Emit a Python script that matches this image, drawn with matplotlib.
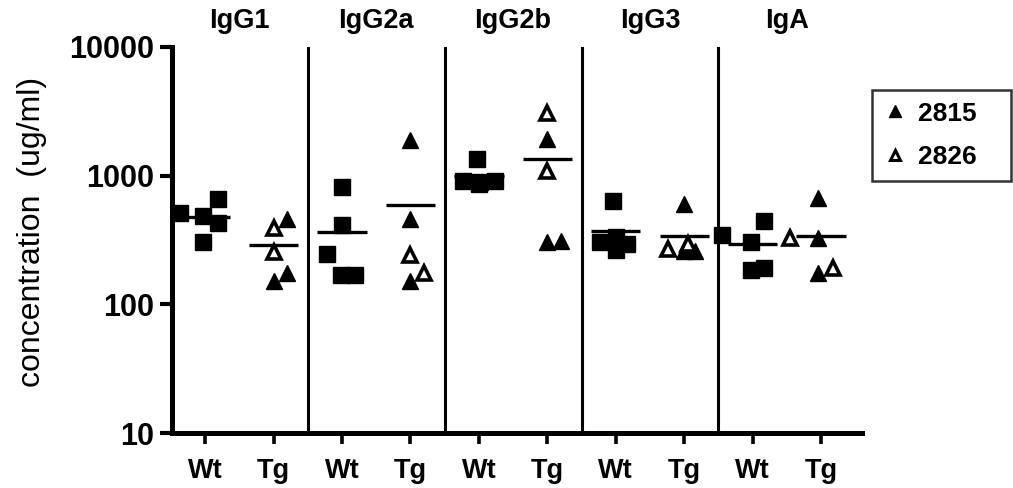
import numpy as np
import matplotlib
matplotlib.use("Agg")
import matplotlib.pyplot as plt
from matplotlib.lines import Line2D
import matplotlib.transforms as mtransforms

plt.rcParams['font.family'] = ['Liberation Sans', 'DejaVu Sans']

# isotypes and genotype labels
groups = ['IgG1', 'IgG2a', 'IgG2b', 'IgG3', 'IgA']
genotypes = ['Wt', 'Tg']

# Wt mice (squares), concentration ug/ml
wt_values = [
    [517, 664, 490, 432, 303],
    [822, 417, 248, 168, 168],
    [1355, 914, 867, 914, 900],
    [640, 307, 335, 297, 266],
    [343, 448, 303, 184, 190],
]
# Tg mice, line 2815 (filled triangles)
tg_2815 = [
    [464, 153, 174],
    [1901, 464, 153],
    [1936, 303, 313],
    [607, 258, 262],
    [675, 325, 174],
]
# Tg mice, line 2826 (open triangles)
tg_2826 = [
    [395, 253],
    [240, 174],
    [3076, 1093],
    [267, 297],
    [330, 190],
]

# horizontal scatter offsets so overlapping points show side by side
wt_jitter = [
    [-0.37, 0.19, -0.03, 0.19, -0.03],
    [0, 0, -0.22, -0.02, 0.19],
    [-0.03, -0.23, 0, 0.23, 0.02],
    [-0.04, -0.23, 0, 0.17, 0],
    [-0.44, 0.16, -0.03, -0.03, 0.16],
]
jitter_2815 = [
    [0.19, 0, 0.19],
    [0, 0, 0],
    [0, 0, 0.2],
    [0, 0, 0.16],
    [-0.04, -0.04, -0.04],
]
jitter_2826 = [
    [0, 0],
    [0, 0.2],
    [0, 0],
    [-0.23, 0.06],
    [-0.45, 0.18],
]

fig = plt.figure(figsize=(10.13, 4.88), dpi=100)
ax = fig.add_axes([0.170, 0.1127, 0.681, 0.791])

sq = dict(marker='s', ms=11.5, color='black', ls='none', zorder=3)
tri_f = dict(marker='^', ms=12, color='black', ls='none', zorder=3)
tri_o = dict(marker='^', ms=10, mfc='white', mec='black', mew=2.6, ls='none', zorder=3)

for i in range(len(groups)):
    xw = 2 * i + 1
    xt = 2 * i + 2
    ax.plot(xw + np.array(wt_jitter[i]), wt_values[i], **sq)
    ax.plot(xt + np.array(jitter_2815[i]), tg_2815[i], **tri_f)
    ax.plot(xt + np.array(jitter_2826[i]), tg_2826[i], **tri_o)
    # group means
    wt_mean = np.mean(wt_values[i])
    tg_mean = np.mean(tg_2815[i] + tg_2826[i])
    ax.hlines(wt_mean, xw - 0.36, xw + 0.36, color='black', lw=2.4, zorder=4)
    ax.hlines(tg_mean, xt - 0.36, xt + 0.36, color='black', lw=2.4, zorder=4)
    if i > 0:
        ax.axvline(2 * i + 0.5, color='black', lw=2.2, zorder=2)

trans = mtransforms.blended_transform_factory(ax.transData, ax.transAxes)
for i, g in enumerate(groups):
    ax.text(2 * i + 1.5, 1.068, g, transform=trans, ha='center', va='center',
            fontsize=19.5, fontweight='bold')

ax.set_yscale('log')
ax.set_ylim(10, 10000)
ax.set_xlim(0.518, 10.6)
ax.set_yticks([10, 100, 1000, 10000])
ax.set_yticklabels(['10', '100', '1000', '10000'], fontsize=22, fontweight='bold')
ax.yaxis.set_minor_locator(matplotlib.ticker.NullLocator())
ax.set_xticks(np.arange(1, 11))
ax.set_xticklabels(genotypes * len(groups), fontsize=19.5, fontweight='bold')
ax.tick_params(axis='y', length=9, width=3, pad=4)
ax.tick_params(axis='x', length=8, width=2.6, pad=10)
for s in ['top', 'right']:
    ax.spines[s].set_visible(False)
for s in ['left', 'bottom']:
    ax.spines[s].set_linewidth(3.6)
    ax.spines[s].set_zorder(5)
ax.set_ylabel('concentration  (ug/ml)', fontsize=23)
ax.yaxis.set_label_coords(-0.181, 0.52)

handles = [
    Line2D([], [], marker='^', ms=9, color='black', ls='none'),
    Line2D([], [], marker='^', ms=7.5, mfc='white', mec='black', mew=2.2, ls='none'),
]
leg = fig.legend(handles, ['2815   ', '2826   '], loc='upper left',
                 bbox_to_anchor=(0.861, 0.816), borderaxespad=0, frameon=True,
                 fancybox=False, prop={'size': 19, 'weight': 'bold'},
                 handlelength=0.8, handletextpad=0.5,
                 borderpad=0.45, labelspacing=0.75)
leg.get_frame().set_edgecolor('black')
leg.get_frame().set_linewidth(1.8)

fig.savefig('out.png', dpi=100)
